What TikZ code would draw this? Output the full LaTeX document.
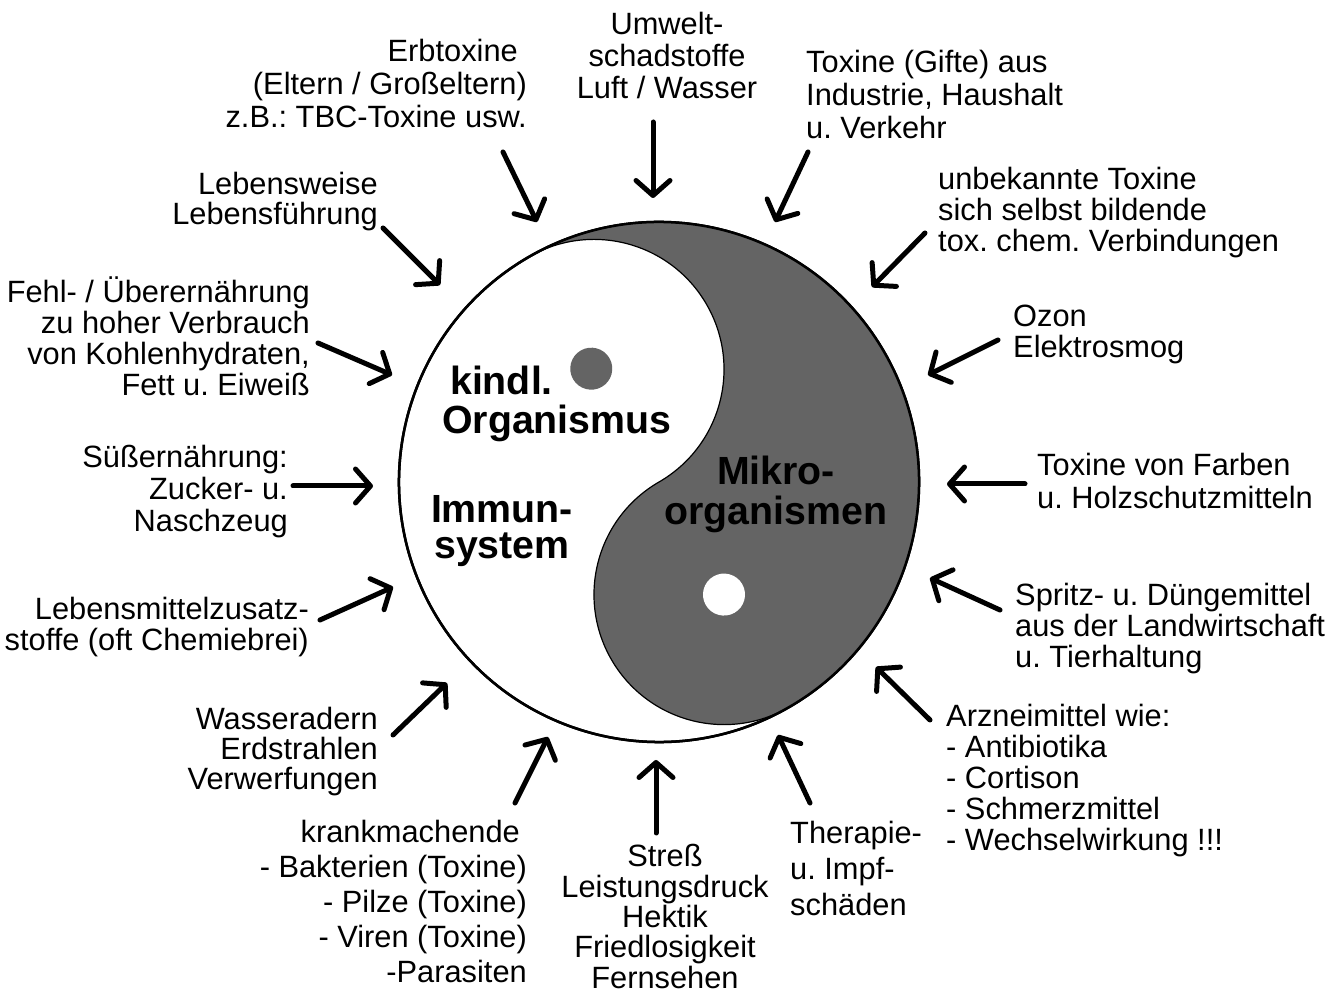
\documentclass[tikz,border=0pt]{standalone}
\usepackage{fontspec}
\setmainfont{Liberation Sans}
\usetikzlibrary{arrows.meta}
\definecolor{ydark}{RGB}{100,100,100}
\begin{document}
\frenchspacing
\begin{tikzpicture}[x=1pt,y=1pt,
  lbl/.style={font=\fontsize{30.8}{#1}\selectfont, inner sep=0pt},
  inlbl/.style={font=\fontsize{39.3}{#1}\selectfont\bfseries, inner sep=0pt},
  arr/.style={line width=5pt, line cap=round, -{Straight Barb[length=15pt,width=34pt,round]}}]
\useasboundingbox (0,0) rectangle (1339,994);
\fill[white] (0,0) rectangle (1339,994);
% yin-yang
\begin{scope}[shift={(659,512)}, rotate=30]
  \filldraw[fill=white, draw=black, line width=2.5pt] (0,0) circle (260);
  \filldraw[fill=ydark, draw=black, line width=1.2pt] (0,260) arc[start angle=90, end angle=-90, radius=260]
     arc[start angle=-90, end angle=-270, radius=130]
     arc[start angle=-90, end angle=90, radius=130] -- cycle;
  \draw[black, line width=2.5pt] (0,0) circle (260);
  \fill[ydark] (-2,132) circle (21);
  \fill[white] (0,-130) circle (21);
\end{scope}
% inner labels (anchor = baseline of last line)
\node[inlbl=39, align=left, anchor=base west] (k1) at (442,560) {\hspace*{8pt}kindl.\\Organismus};
\node[inlbl=36, align=center, anchor=base] (k2) at (502,435) {Immun-\\system};
\node[inlbl=40, align=center, anchor=base] (k3) at (776,469) {Mikro-\\organismen};
% outer labels
\node[lbl=33, align=right, anchor=base east] (n1) at (527,866) {Erbtoxine\hspace*{9pt}\\(Eltern / Großeltern)\\z.B.: TBC-Toxine usw.};
\node[lbl=32, align=center, anchor=base] (n2) at (667,895) {Umwelt-\\schadstoffe\\Luft / Wasser};
\node[lbl=33, align=left, anchor=base west] (n3) at (806,855) {Toxine (Gifte) aus\\Industrie, Haushalt\\u. Verkehr};
\node[lbl=31, align=left, anchor=base west] (n4) at (938,742) {unbekannte Toxine\\sich selbst bildende\\tox. chem. Verbindungen};
\node[lbl=31, align=left, anchor=base west] (n5) at (1013,636) {Ozon\\Elektrosmog};
\node[lbl=33, align=left, anchor=base west] (n6) at (1037,485) {Toxine von Farben\\u. Holzschutzmitteln};
\node[lbl=31, align=left, anchor=base west] (n7) at (1015,326) {Spritz- u. Düngemittel\\aus der Landwirtschaft\\u. Tierhaltung};
\node[lbl=30.8, align=left, anchor=base west] (n8) at (946,144) {Arzneimittel wie:\\- Antibiotika\\- Cortison\\- Schmerzmittel\\- Wechselwirkung !!!};
\node[lbl=36, align=left, anchor=base west] (n9) at (790,79) {Therapie-\\u. Impf-\\schäden};
\node[lbl=30.3, align=center, anchor=base] (n10) at (665,6) {Streß\\Leistungsdruck\\Hektik\\Friedlosigkeit\\Fernsehen};
\node[lbl=35, align=right, anchor=base east] (n11) at (527,12) {krankmachende\hspace*{7pt}\\- Bakterien (Toxine)\\- Pilze (Toxine)\\- Viren (Toxine)\\-Parasiten};
\node[lbl=30.5, align=right, anchor=base east] (n12) at (378,204) {Wasseradern\\Erdstrahlen\\Verwerfungen};
\node[lbl=31, align=right, anchor=base east] (n13) at (309,343) {Lebensmittelzusatz-\\stoffe (oft Chemiebrei)};
\node[lbl=32, align=right, anchor=base east] (n14) at (288,462) {Süßernährung:\\Zucker- u.\\Naschzeug};
\node[lbl=31, align=right, anchor=base east] (n15) at (310,598) {Fehl- / Überernährung\\zu hoher Verbrauch\\von Kohlenhydraten,\\Fett u. Eiweiß};
\node[lbl=30, align=right, anchor=base east] (n16) at (378,769) {Lebensweise\\Lebensführung};
% arrow end points
\coordinate (s1) at (503,842);  \coordinate (t1) at (537,772);
\coordinate (s2) at (653,872);  \coordinate (t2) at (653,796);
\coordinate (s3) at (808,842);  \coordinate (t3) at (775,772);
\coordinate (s4) at (925,761);  \coordinate (t4) at (872,707);
\coordinate (s5) at (998,654);  \coordinate (t5) at (928,619);
\coordinate (s6) at (1025,510); \coordinate (t6) at (947,510);
\coordinate (s7) at (1000,384); \coordinate (t7) at (930,416);
\coordinate (s8) at (930,274);  \coordinate (t8) at (876,327);
\coordinate (s9) at (810,191);  \coordinate (t9) at (778,259);
\coordinate (s10) at (656,161); \coordinate (t10) at (656,234);
\coordinate (s11) at (515,191); \coordinate (t11) at (548,257);
\coordinate (s12) at (393,259); \coordinate (t12) at (447,311);
\coordinate (s13) at (320,374); \coordinate (t13) at (393,407);
\coordinate (s14) at (293,508); \coordinate (t14) at (373,508);
\coordinate (s15) at (318,651); \coordinate (t15) at (392,619);
\coordinate (s16) at (383,766); \coordinate (t16) at (440,709);
\foreach \i in {1,...,16} {\draw[arr] (s\i) -- (t\i);}
\end{tikzpicture}
\end{document}
